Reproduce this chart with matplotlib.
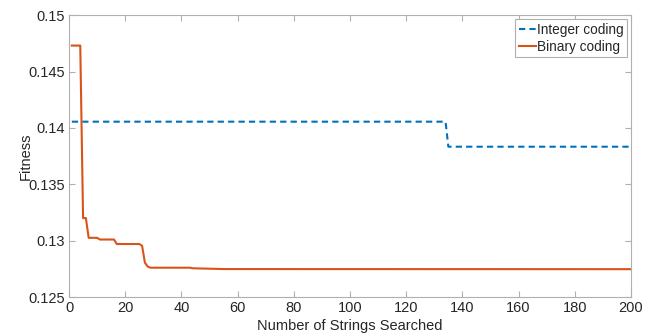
import matplotlib
matplotlib.use("Agg")
import matplotlib.pyplot as plt

# ---------------------------
# data
# ---------------------------
integer_x = [1, 134, 135, 200]
integer_y = [0.14055, 0.14055, 0.13833, 0.13833]

binary_x = [1, 4, 5, 6, 7, 10, 11, 16, 17, 25, 26, 27, 28, 29, 43, 44, 55, 200]
binary_y = [0.1473, 0.1473, 0.1320, 0.1320, 0.13025, 0.13025, 0.1301, 0.1301,
            0.12970, 0.12970, 0.12955, 0.12805, 0.12770, 0.12760, 0.12760,
            0.12755, 0.12748, 0.12747]

x_ticks = list(range(0, 201, 20))
y_ticks = [0.125, 0.13, 0.135, 0.14, 0.145, 0.15]
y_tick_labels = ["0.125", "0.13", "0.135", "0.14", "0.145", "0.15"]

blue = "#0072BD"
orange = "#D95319"
axis_grey = "#262626"

plt.rcParams['font.family'] = ['Liberation Sans', 'DejaVu Sans']
plt.rcParams['font.size'] = 10

fig = plt.figure(figsize=(6.53, 3.36), dpi=100)
ax = fig.add_axes([0.1057, 0.116, 0.8606, 0.839])

ax.plot(integer_x, integer_y, color=blue, linestyle=(0, (3, 2)), linewidth=1.5,
        label='Integer coding')
ax.plot(binary_x, binary_y, color=orange, linestyle='-', linewidth=1.5,
        label='Binary coding')

ax.set_xlim(0, 200)
ax.set_ylim(0.125, 0.15)
ax.set_xticks(x_ticks)
ax.set_yticks(y_ticks)
ax.set_yticklabels(y_tick_labels)

for s in ax.spines.values():
    s.set_color('#b0b0b0')
    s.set_linewidth(0.8)
ax.tick_params(direction='in', length=4, width=0.8, color='#b0b0b0',
               labelcolor=axis_grey, labelsize=10.5, top=True, right=True, pad=3)

ax.set_xlabel('Number of Strings Searched', color=axis_grey, fontsize=10.5, labelpad=3)
ax.set_ylabel('Fitness', color=axis_grey, fontsize=10.5, labelpad=-3)

leg = ax.legend(loc='upper right', fontsize=9.8, handlelength=1.25,
                handletextpad=0.1, borderpad=0.25, labelspacing=0.25,
                borderaxespad=0.3, fancybox=False, framealpha=1)
leg.get_frame().set_edgecolor('#b0b0b0')
leg.get_frame().set_linewidth(0.8)
for t in leg.get_texts():
    t.set_color(axis_grey)

fig.savefig('out.png', dpi=100)
